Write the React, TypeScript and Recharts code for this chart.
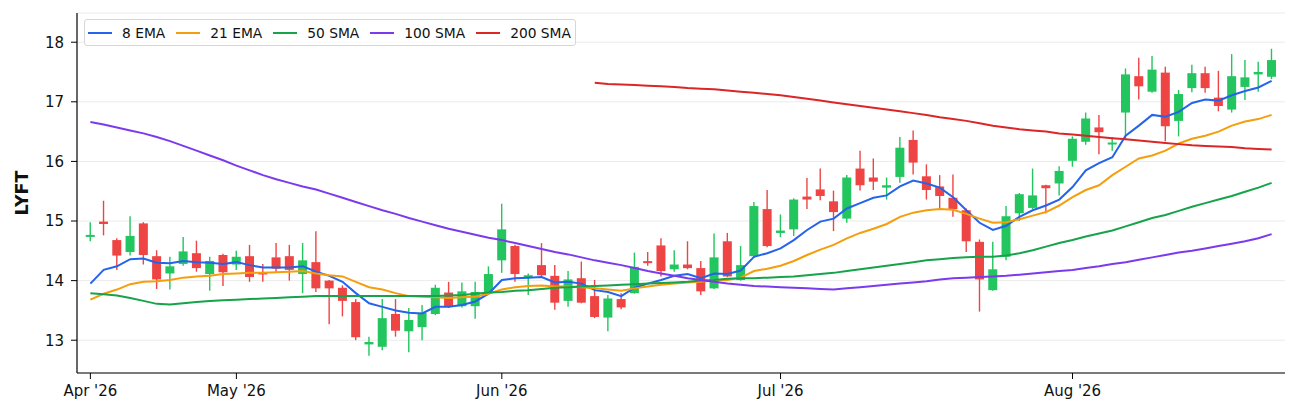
import { Bar, CartesianGrid, ComposedChart, Legend, Line, XAxis, YAxis } from "recharts";

const FONT = "DejaVu Sans, sans-serif";

const dates = [
  "2026-04-16", "2026-04-17", "2026-04-20", "2026-04-21", "2026-04-22", "2026-04-23", "2026-04-24", "2026-04-27", "2026-04-28", "2026-04-29", "2026-04-30",
  "2026-05-01", "2026-05-04", "2026-05-05", "2026-05-06", "2026-05-07", "2026-05-08", "2026-05-11", "2026-05-12", "2026-05-13", "2026-05-14", "2026-05-15",
  "2026-05-18", "2026-05-19", "2026-05-20", "2026-05-21", "2026-05-22", "2026-05-26", "2026-05-27", "2026-05-28", "2026-05-29",
  "2026-06-01", "2026-06-02", "2026-06-03", "2026-06-04", "2026-06-05", "2026-06-08", "2026-06-09", "2026-06-10", "2026-06-11", "2026-06-12",
  "2026-06-15", "2026-06-16", "2026-06-17", "2026-06-18", "2026-06-22", "2026-06-23", "2026-06-24", "2026-06-25", "2026-06-26", "2026-06-29", "2026-06-30",
  "2026-07-01", "2026-07-02", "2026-07-06", "2026-07-07", "2026-07-08", "2026-07-09", "2026-07-10", "2026-07-13", "2026-07-14", "2026-07-15", "2026-07-16",
  "2026-07-17", "2026-07-20", "2026-07-21", "2026-07-22", "2026-07-23", "2026-07-24", "2026-07-27", "2026-07-28", "2026-07-29", "2026-07-30", "2026-07-31",
  "2026-08-03", "2026-08-04", "2026-08-05", "2026-08-06", "2026-08-07", "2026-08-10", "2026-08-11", "2026-08-12", "2026-08-13", "2026-08-14",
  "2026-08-17", "2026-08-18", "2026-08-19", "2026-08-20", "2026-08-21", "2026-08-24",
];

const monthTicks = ["2026-04-16", "2026-05-01", "2026-06-01", "2026-07-01", "2026-08-03"];
const monthLabels = ["Apr '26", "May '26", "Jun '26", "Jul '26", "Aug '26"];

const open = [
  14.72, 14.99, 14.68, 14.48, 14.96, 14.41, 14.12, 14.28, 14.46, 14.11, 14.43, 14.27, 14.41, 14.12, 14.39,
  14.41, 14.11, 14.31, 14.0, 13.88, 13.64, 12.93, 12.89, 13.44, 13.15, 13.22, 13.44, 13.8, 13.57, 13.57,
  13.81, 14.34, 14.58, 14.05, 14.26, 14.08, 13.66, 14.04, 13.74, 13.38, 13.69, 13.79, 14.31, 14.59, 14.19,
  14.27, 14.21, 13.87, 14.66, 14.01, 14.41, 15.2, 14.8, 14.86, 15.41, 15.53, 15.33, 15.04, 15.88, 15.73,
  15.56, 15.74, 16.36, 15.75, 15.58, 15.39, 15.18, 14.65, 13.84, 14.4, 15.13, 15.22, 15.6, 15.63, 16.01,
  16.33, 16.57, 16.27, 16.82, 17.43, 17.17, 17.49, 16.68, 17.23, 17.48, 17.07, 16.87, 17.25, 17.46, 17.42,
];
const high = [
  14.98, 15.34, 14.71, 15.08, 14.98, 14.51, 14.4, 14.73, 14.67, 14.4, 14.45, 14.5, 14.6, 14.28, 14.63,
  14.6, 14.63, 14.83, 14.01, 13.92, 13.69, 13.06, 13.69, 13.69, 13.54, 13.59, 13.93, 13.98, 13.97, 13.98,
  14.24, 15.29, 14.6, 14.12, 14.63, 14.26, 14.16, 14.32, 14.01, 13.76, 13.79, 14.47, 14.48, 14.71, 14.51,
  14.66, 14.33, 14.79, 14.8, 14.58, 15.32, 15.52, 15.11, 15.38, 15.72, 15.88, 15.51, 15.77, 16.18, 16.05,
  15.73, 16.41, 16.52, 15.95, 15.77, 15.78, 15.21, 14.69, 14.65, 15.25, 15.47, 15.88, 15.61, 15.92, 16.42,
  16.82, 16.78, 16.41, 17.56, 17.74, 17.77, 17.59, 17.2, 17.62, 17.59, 17.52, 17.8, 17.7, 17.67, 17.89,
];
const low = [
  14.66, 14.76, 14.18, 14.42, 14.27, 13.86, 13.85, 14.25, 14.15, 13.83, 13.91, 14.18, 13.98, 13.98, 14.13,
  14.0, 13.79, 13.81, 13.27, 13.4, 13.0, 12.74, 12.83, 13.06, 12.8, 13.0, 13.42, 13.54, 13.55, 13.36,
  13.78, 14.13, 13.98, 13.76, 14.07, 13.51, 13.56, 13.62, 13.37, 13.15, 13.52, 13.78, 14.25, 14.07, 14.15,
  14.19, 13.76, 13.86, 14.06, 14.0, 14.38, 14.56, 14.73, 14.75, 15.2, 15.35, 14.83, 14.97, 15.51, 15.52,
  15.36, 15.64, 15.78, 15.36, 15.21, 15.07, 14.48, 13.48, 13.83, 14.34, 15.0, 15.2, 15.13, 15.43, 15.91,
  16.28, 16.12, 16.18, 16.38, 17.04, 17.15, 16.34, 16.42, 17.16, 17.15, 16.84, 16.82, 17.03, 17.17, 17.38,
];
const close = [
  14.75, 14.95, 14.42, 14.75, 14.43, 14.02, 14.24, 14.49, 14.21, 14.33, 14.14, 14.4, 14.06, 14.09, 14.2,
  14.18, 14.34, 13.87, 13.87, 13.66, 13.05, 12.97, 13.37, 13.16, 13.34, 13.46, 13.88, 13.57, 13.82, 13.81,
  14.11, 14.86, 14.11, 14.09, 14.09, 13.63, 14.02, 13.63, 13.39, 13.7, 13.55, 14.23, 14.28, 14.16, 14.27,
  14.21, 13.82, 14.39, 14.07, 14.26, 15.25, 14.58, 14.84, 15.36, 15.36, 15.42, 15.15, 15.73, 15.6, 15.66,
  15.6, 16.23, 15.98, 15.52, 15.42, 15.2, 14.66, 14.02, 14.19, 15.08, 15.45, 15.43, 15.55, 15.84, 16.38,
  16.72, 16.49, 16.3, 17.46, 17.26, 17.54, 16.59, 17.13, 17.48, 17.23, 16.93, 17.43, 17.41, 17.5, 17.7,
];

const ema8 = [
  13.95, 14.18, 14.24, 14.36, 14.37, 14.3, 14.29, 14.33, 14.31, 14.3, 14.28, 14.31, 14.26, 14.22, 14.22,
  14.22, 14.24, 14.15, 14.08, 13.98, 13.79, 13.62, 13.56, 13.5, 13.46, 13.45, 13.56, 13.56, 13.59, 13.65,
  13.78, 14.01, 14.04, 14.05, 14.06, 13.97, 13.98, 13.95, 13.84, 13.81, 13.74, 13.88, 13.95, 14.01, 14.08,
  14.11, 14.04, 14.12, 14.11, 14.17, 14.4, 14.46, 14.54, 14.68, 14.85, 14.99, 15.04, 15.21, 15.3, 15.39,
  15.43, 15.58, 15.68, 15.63, 15.56, 15.4, 15.18, 14.97, 14.85, 14.92, 15.07, 15.18, 15.26, 15.36, 15.57,
  15.85, 15.97, 16.07, 16.43, 16.6, 16.78, 16.75, 16.83, 16.98, 17.04, 17.02, 17.11, 17.18, 17.24, 17.35,
];
const ema21 = [
  13.68, 13.78, 13.85, 13.94, 13.98, 13.99, 14.01, 14.05, 14.07, 14.08, 14.11, 14.12, 14.13, 14.13, 14.14,
  14.15, 14.16, 14.12, 14.09, 14.07, 13.98, 13.89, 13.85, 13.79, 13.74, 13.73, 13.72, 13.71, 13.72, 13.73,
  13.78, 13.85, 13.89, 13.91, 13.92, 13.9, 13.9, 13.89, 13.87, 13.85, 13.83, 13.87, 13.9, 13.93, 13.95,
  13.97, 13.98, 14.0, 14.01, 14.05, 14.16, 14.2, 14.25, 14.33, 14.43, 14.52, 14.6, 14.71, 14.8, 14.87,
  14.95, 15.07, 15.14, 15.18, 15.2, 15.19, 15.12, 15.04, 14.97, 14.98, 15.03, 15.09, 15.15, 15.26, 15.4,
  15.52, 15.6, 15.77, 15.91, 16.05, 16.1, 16.18, 16.3, 16.38, 16.43, 16.5, 16.6, 16.67, 16.71, 16.78,
];
const sma50 = [
  13.79, 13.77, 13.75, 13.71, 13.66, 13.61, 13.6, 13.62, 13.64, 13.66, 13.67, 13.68, 13.69, 13.7, 13.71,
  13.72, 13.73, 13.74, 13.74, 13.74, 13.74, 13.74, 13.74, 13.74, 13.74, 13.74, 13.74, 13.75, 13.76, 13.78,
  13.8, 13.81, 13.83, 13.84, 13.86, 13.88, 13.89, 13.9, 13.91, 13.92, 13.93, 13.94, 13.95, 13.96, 13.97,
  13.98, 14.0, 14.01, 14.03, 14.04, 14.04, 14.05, 14.06, 14.07, 14.09, 14.11, 14.13, 14.16, 14.19, 14.22,
  14.25, 14.28, 14.31, 14.34, 14.36, 14.38, 14.39, 14.4, 14.4, 14.42, 14.46, 14.51, 14.57, 14.63, 14.68,
  14.74, 14.79, 14.84, 14.91, 14.98, 15.05, 15.1, 15.17, 15.24, 15.3, 15.36, 15.42, 15.49, 15.56, 15.64,
];
const sma100 = [
  16.66, 16.62, 16.57, 16.52, 16.47, 16.41, 16.34, 16.26, 16.18, 16.1, 16.02, 15.93, 15.85, 15.77, 15.7,
  15.64, 15.58, 15.53, 15.46, 15.39, 15.32, 15.25, 15.18, 15.12, 15.05, 14.99, 14.93, 14.87, 14.82, 14.77,
  14.72, 14.68, 14.63, 14.58, 14.53, 14.48, 14.44, 14.39, 14.34, 14.3, 14.26, 14.21, 14.16, 14.12, 14.08,
  14.04, 14.01, 13.98, 13.95, 13.93, 13.91, 13.9, 13.89, 13.88, 13.87, 13.86, 13.85, 13.87, 13.89, 13.91,
  13.93, 13.95, 13.97, 13.99, 14.02, 14.04, 14.05, 14.06, 14.07, 14.08, 14.1, 14.12, 14.14, 14.16, 14.18,
  14.21, 14.24, 14.28, 14.31, 14.35, 14.39, 14.43, 14.47, 14.5, 14.54, 14.58, 14.62, 14.66, 14.71, 14.78,
];
// 200 SMA only has values from mid-June on
const sma200 = [
  null, null, null, null, null, null, null, null, null, null, null, null, null, null, null,
  null, null, null, null, null, null, null, null, null, null, null, null, null, null, null,
  null, null, null, null, null, null, null, null, 17.32, 17.3, 17.29, 17.28, 17.27, 17.26, 17.25,
  17.23, 17.22, 17.21, 17.19, 17.17, 17.15, 17.13, 17.11, 17.08, 17.05, 17.02, 16.99, 16.96, 16.93, 16.9,
  16.87, 16.84, 16.81, 16.78, 16.74, 16.71, 16.68, 16.64, 16.6, 16.57, 16.54, 16.52, 16.5, 16.47, 16.45,
  16.43, 16.41, 16.39, 16.37, 16.35, 16.33, 16.31, 16.29, 16.27, 16.26, 16.25, 16.24, 16.22, 16.21, 16.2,
];

const series = [
  { key: "ema8", name: "8 EMA", color: "#2563eb" },
  { key: "ema21", name: "21 EMA", color: "#f59e0b" },
  { key: "sma50", name: "50 SMA", color: "#16a34a" },
  { key: "sma100", name: "100 SMA", color: "#7c3aed" },
  { key: "sma200", name: "200 SMA", color: "#dc2626" },
];

const data = dates.map((date, i) => ({
  date,
  open: open[i],
  high: high[i],
  low: low[i],
  close: close[i],
  ema8: ema8[i],
  ema21: ema21[i],
  sma50: sma50[i],
  sma100: sma100[i],
  sma200: sma200[i],
}));

function Candle(props: any) {
  const { x, y, width, height, payload } = props;
  const { open: o, close: c, high: h, low: l } = payload;
  const color = c >= o ? "#22c55e" : "#ef4444";
  const k = height / (h - l);
  const yo = y + (h - o) * k;
  const yc = y + (h - c) * k;
  const cx = x + width / 2;
  const bodyH = Math.max(Math.abs(yo - yc), 2);
  return (
    <g>
      <line x1={cx} x2={cx} y1={y} y2={y + height} stroke={color} strokeWidth={1.4} />
      <rect x={x} y={Math.min(yo, yc) - (bodyH > Math.abs(yo - yc) ? 1 : 0)} width={width} height={bodyH} fill={color} />
    </g>
  );
}

function LegendBox() {
  return (
    <div
      style={{
        display: "flex",
        alignItems: "center",
        height: 25,
        padding: "0 4px 0 3px",
        border: "1px solid #d6d6d6",
        borderRadius: 3,
        background: "rgba(255,255,255,0.85)",
        fontFamily: FONT,
        fontSize: 13.8,
        color: "#111",
        whiteSpace: "nowrap",
      }}
    >
      {series.map((s, i) => (
        <div key={s.key} style={{ display: "flex", alignItems: "center", marginRight: i < series.length - 1 ? 11 : 0 }}>
          <span style={{ display: "inline-block", width: 24, height: 2, background: s.color, marginRight: 10 }} />
          <span>{s.name}</span>
        </div>
      ))}
    </div>
  );
}

export default function App() {
  return (
    <div style={{ position: "absolute", left: 0, top: 0, width: 1298, height: 415, background: "#fff" }}>
      <ComposedChart width={1298} height={415} data={data} margin={{ top: 13, right: 13, bottom: 0, left: 0 }}>
        <CartesianGrid vertical={false} stroke="#ebebeb" />
        <XAxis
          dataKey="date"
          type="category"
          ticks={monthTicks}
          interval={0}
          tickFormatter={(v) => monthLabels[monthTicks.indexOf(v)] ?? ""}
          padding={{ left: 6.75, right: 6.75 }}
          height={42}
          tickSize={6}
          tickMargin={6}
          axisLine={{ stroke: "#000", strokeWidth: 1.2 }}
          tickLine={{ stroke: "#000", strokeWidth: 1 }}
          tick={{ fill: "#111", fontSize: 15, fontFamily: FONT }}
        />
        <YAxis
          type="number"
          domain={[12.45, 18.49]}
          ticks={[13, 14, 15, 16, 17, 18]}
          allowDataOverflow
          width={77}
          tickSize={6}
          tickMargin={7}
          axisLine={{ stroke: "#000", strokeWidth: 1.2 }}
          tickLine={{ stroke: "#000", strokeWidth: 1 }}
          tick={{ fill: "#111", fontSize: 15, fontFamily: FONT }}
          label={{
            value: "LYFT",
            angle: -90,
            position: "insideLeft",
            offset: 22,
            style: { textAnchor: "middle", fontSize: 17.5, fontWeight: "bold", fontFamily: FONT, fill: "#111" },
          }}
        />
        <Legend
          layout="horizontal"
          verticalAlign="middle"
          align="center"
          wrapperStyle={{ top: 19, left: 84, width: "auto", height: "auto" }}
          content={() => <LegendBox />}
        />
        <Bar dataKey={(d: any) => [d.low, d.high]} barSize={9} shape={Candle} isAnimationActive={false} legendType="none" />
        {series.map((s) => (
          <Line
            key={s.key}
            type="linear"
            dataKey={s.key}
            name={s.name}
            stroke={s.color}
            strokeWidth={2}
            dot={false}
            activeDot={false}
            isAnimationActive={false}
          />
        ))}
      </ComposedChart>
    </div>
  );
}
